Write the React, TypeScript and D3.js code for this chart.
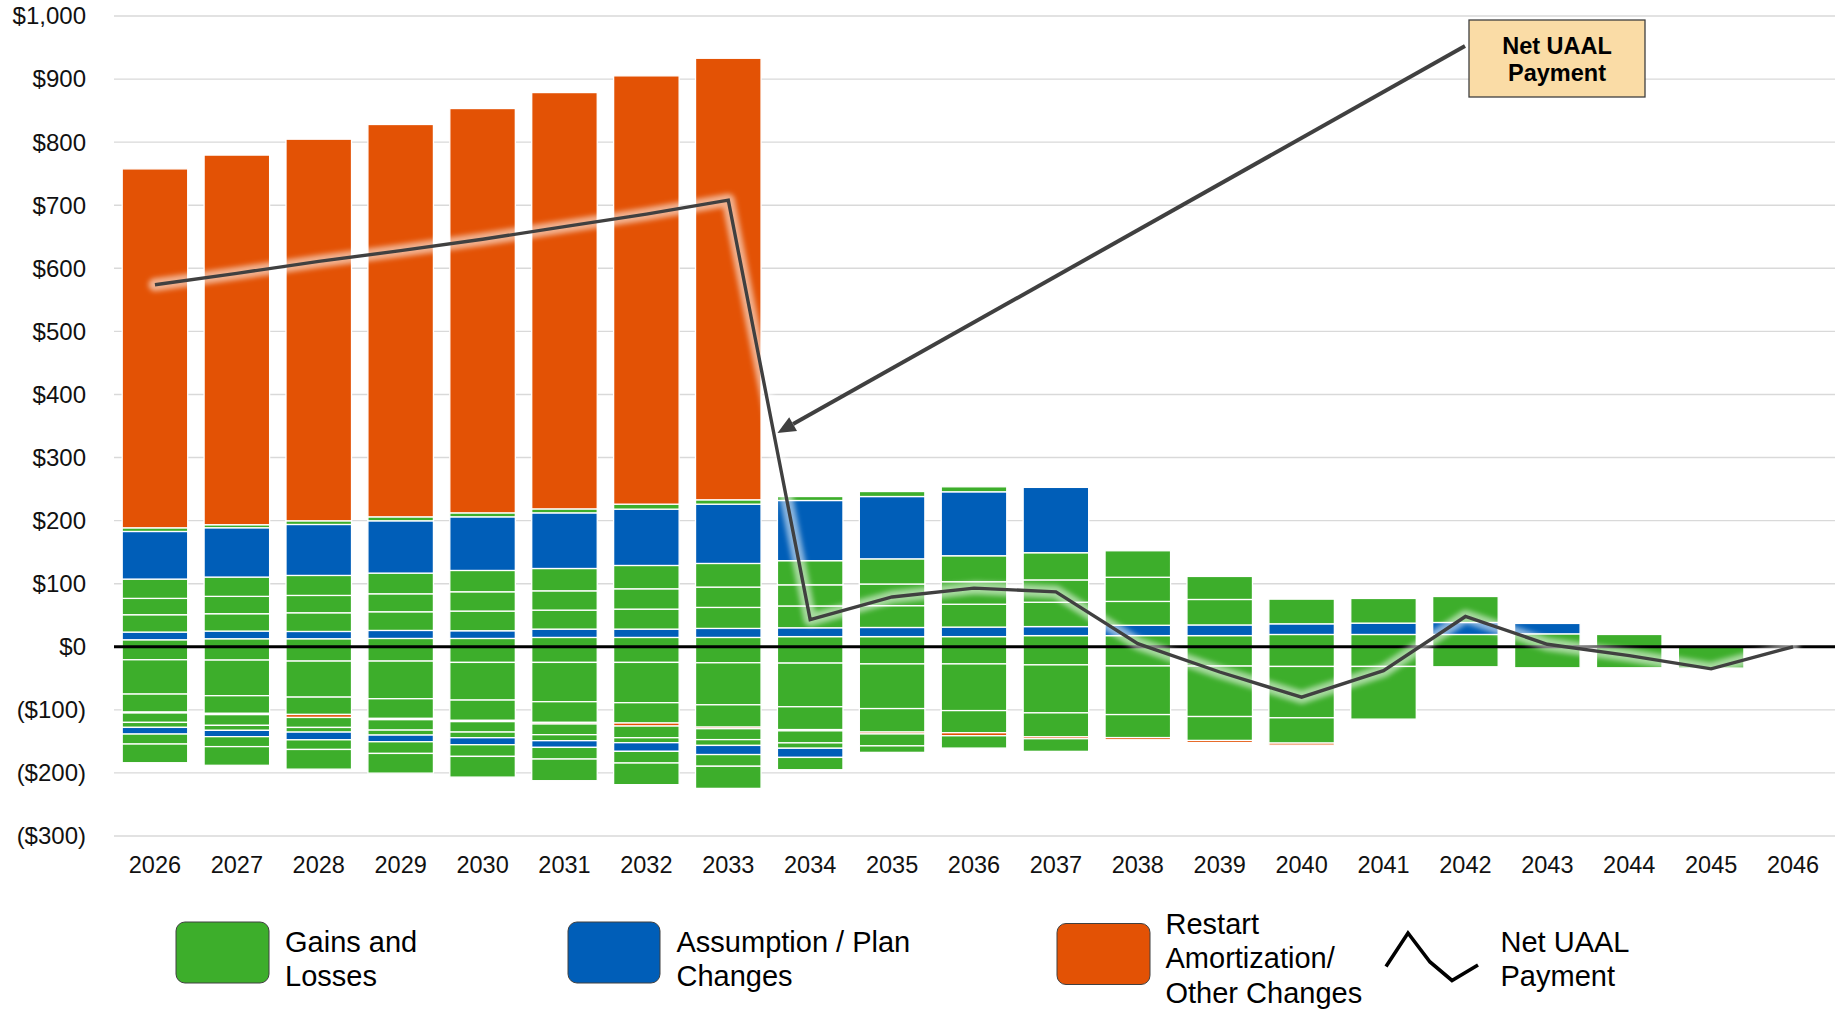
import React from 'react';
import * as d3 from 'd3';

// ---- categories & axis ticks ----
const years = [
  '2026', '2027', '2028', '2029', '2030', '2031', '2032', '2033', '2034', '2035', '2036',
  '2037', '2038', '2039', '2040', '2041', '2042', '2043', '2044', '2045', '2046',
];
const yTicks = [-300, -200, -100, 0, 100, 200, 300, 400, 500, 600, 700, 800, 900, 1000];

// ---- amortization layers ($ millions), one value per year ----
// positive layers, stacked upward from zero in this order
const gainA = [11.1, 12.7, 12.7, 13.2, 13.2, 14.8, 14.8, 14.8, 16.1, 16.1, 16.1, 17.7, 17.7, 17.7, 19.5, 19.5, 19.5, 20.5, 19.5, 0, 0];
const assumpA = [12.2, 12.2, 11.6, 12.7, 12.2, 13.2, 13.2, 14.3, 14.0, 14.5, 15.1, 14.3, 16.4, 16.9, 16.9, 18.0, 19.0, 16.5, 0, 0, 0];
const gainB = [27.5, 27.5, 29.6, 29.6, 31.2, 30.1, 31.7, 33.3, 34.6, 34.6, 36.2, 38.6, 37.8, 40.4, 39.1, 39.1, 41.2, 0, 0, 0, 0];
const gainC = [25.9, 27.5, 27.5, 28.5, 30.6, 30.6, 32.2, 32.2, 33.5, 34.3, 35.7, 35.4, 38.3, 36.5, 0, 0, 0, 0, 0, 0, 0];
const gainD = [30.6, 30.6, 31.7, 32.8, 33.8, 35.4, 37.0, 37.5, 38.3, 39.9, 41.2, 43.1, 42.0, 0, 0, 0, 0, 0, 0, 0, 0];
const assumpB = [75.5, 78.2, 80.8, 82.9, 85.0, 88.2, 89.3, 94.0, 95.4, 98.8, 101.4, 103.6, 0, 0, 0, 0, 0, 0, 0, 0, 0];
const gainE = [5.8, 4.8, 5.8, 6.3, 6.3, 6.3, 7.9, 6.9, 6.3, 7.9, 7.9, 0, 0, 0, 0, 0, 0, 0, 0, 0, 0];
const restart = [569, 586, 605, 622, 641, 660, 679, 700, 0, 0, 0, 0, 0, 0, 0, 0, 0, 0, 0, 0, 0];

// negative layers, stacked downward from zero in this order
const lossA = [-20.6, -21.1, -22.7, -22.7, -24.8, -24.8, -24.8, -25.4, -25.9, -27.2, -27.2, -28.7, -30.4, -30.6, -31.2, -31.2, -31.7, -33.3, -33.3, -33.8, 0];
const lossB = [-54.4, -56.5, -57.1, -59.7, -59.7, -62.3, -63.9, -66.6, -69.2, -70.8, -74.0, -76.1, -77.1, -80.0, -81.4, -83.5, 0, 0, 0, 0, 0];
const lossC = [-28.5, -28.0, -27.5, -31.2, -32.2, -32.8, -32.2, -35.4, -36.2, -37.2, -35.1, -38.0, -36.5, -38.0, -40.1, 0, 0, 0, 0, 0, 0];
const otherNeg = [-1.5, -2.0, -4.8, -2.0, -2.0, -2.5, -4.8, -2.5, -2.0, -3.0, -4.8, -3.0, -3.4, -3.4, -3.2, 0, 0, 0, 0, 0, 0];
const lossD = [-14.9, -17.0, -15.8, -16.5, -16.5, -17.0, -18.5, -17.3, -19.1, -18.9, -19.5, -20.0, 0, 0, 0, 0, 0, 0, 0, 0, 0];
const lossE = [-7.9, -7.9, -7.4, -7.9, -9.0, -9.5, -7.9, -9.2, -8.5, -10.3, 0, 0, 0, 0, 0, 0, 0, 0, 0, 0, 0];
const assumpNeg = [-10.6, -10.0, -12.2, -10.6, -11.1, -10.6, -13.7, -14.5, -14.5, 0, 0, 0, 0, 0, 0, 0, 0, 0, 0, 0, 0];
const lossF = [-15.8, -15.8, -15.3, -18.5, -18.5, -18.5, -18.5, -18.5, -19.5, 0, 0, 0, 0, 0, 0, 0, 0, 0, 0, 0, 0];
const lossG = [-29.6, -29.6, -31.2, -31.2, -32.8, -34.3, -34.3, -35.1, 0, 0, 0, 0, 0, 0, 0, 0, 0, 0, 0, 0, 0];

// net UAAL payment line
const netPayment = [574, 592, 611, 628, 646, 666, 686, 708, 43, 79, 93, 87, 5, -40, -80, -38, 48, 4, -14, -35, 0];

const COLORS: Record<string, string> = {
  gain: '#3dae2b',
  assump: '#005eb8',
  restart: '#e35205',
};

const layers = [
  { key: 'gainA', kind: 'gain', values: gainA },
  { key: 'assumpA', kind: 'assump', values: assumpA },
  { key: 'gainB', kind: 'gain', values: gainB },
  { key: 'gainC', kind: 'gain', values: gainC },
  { key: 'gainD', kind: 'gain', values: gainD },
  { key: 'assumpB', kind: 'assump', values: assumpB },
  { key: 'gainE', kind: 'gain', values: gainE },
  { key: 'restart', kind: 'restart', values: restart },
  { key: 'lossA', kind: 'gain', values: lossA },
  { key: 'lossB', kind: 'gain', values: lossB },
  { key: 'lossC', kind: 'gain', values: lossC },
  { key: 'otherNeg', kind: 'restart', values: otherNeg },
  { key: 'lossD', kind: 'gain', values: lossD },
  { key: 'lossE', kind: 'gain', values: lossE },
  { key: 'assumpNeg', kind: 'assump', values: assumpNeg },
  { key: 'lossF', kind: 'gain', values: lossF },
  { key: 'lossG', kind: 'gain', values: lossG },
];

const FONT = '"Liberation Sans", Arial, Helvetica, sans-serif';

const fmtMoney = (v: number) => {
  const s = '$' + d3.format(',')(Math.abs(v));
  return v < 0 ? `(${s})` : s;
};

export default function App() {
  const W = 1835;
  const H = 1009;
  const left = 114;
  const right = 1834;

  const x = d3.scaleBand<string>().domain(years).range([left, right]).paddingInner(0.2).paddingOuter(0.1);
  const y = d3.scaleLinear().domain([-300, 1000]).range([836, 16]);
  const bw = x.bandwidth();
  const cx = (yr: string) => (x(yr) as number) + bw / 2;

  const rows = years.map((yr, i) => {
    const r: Record<string, any> = { year: yr };
    layers.forEach((l) => (r[l.key] = l.values[i]));
    return r;
  });
  const stacked = d3
    .stack<Record<string, any>>()
    .keys(layers.map((l) => l.key))
    .offset(d3.stackOffsetDiverging)(rows);

  const linePath = d3
    .line<number>()
    .x((_, i) => cx(years[i]))
    .y((v) => y(v))(netPayment) as string;

  // callout arrow: from the label box to the drop in the net line after 2033
  const boxX = 1469;
  const boxY = 20;
  const boxW = 176;
  const boxH = 77;
  const ax0 = boxX - 4;
  const ay0 = 46;
  const ax1 = cx('2033') + x.step() * 0.6;
  const ay1 = y(339);
  const ang = Math.atan2(ay1 - ay0, ax1 - ax0);
  const headLen = 18;
  const headHalf = 8;
  const bx = ax1 - headLen * Math.cos(ang);
  const by = ay1 - headLen * Math.sin(ang);
  const head = [
    [ax1, ay1],
    [bx + headHalf * Math.sin(ang), by - headHalf * Math.cos(ang)],
    [bx - headHalf * Math.sin(ang), by + headHalf * Math.cos(ang)],
  ]
    .map((p) => p.join(','))
    .join(' ');

  const legendText = { fontSize: 29, fill: '#000', fontFamily: FONT } as const;

  return (
    <svg
      width={W}
      height={H}
      viewBox={`0 0 ${W} ${H}`}
      style={{ position: 'fixed', left: 0, top: 0, display: 'block', background: '#fff' }}
    >
      <defs>
        <filter id="glow" x="-20%" y="-20%" width="140%" height="140%">
          <feGaussianBlur stdDeviation="2.4" />
        </filter>
      </defs>

      {/* gridlines */}
      <g>
        {yTicks
          .filter((t) => t !== 0)
          .map((t) => (
            <line key={t} x1={left} x2={W} y1={y(t)} y2={y(t)} stroke="#d9d9d9" strokeWidth={1.4} />
          ))}
      </g>

      {/* y tick labels */}
      <g fontFamily={FONT} fontSize={24} fill="#111" textAnchor="end">
        {yTicks.map((t) => (
          <text key={t} x={86} y={y(t)} dy="0.35em">
            {fmtMoney(t)}
          </text>
        ))}
      </g>

      {/* stacked bars */}
      <g>
        {stacked.map((s, si) =>
          s.map((d, i) => {
            if (d[1] === d[0]) return null;
            const yr = years[i];
            const top = y(Math.max(d[0], d[1]));
            const bot = y(Math.min(d[0], d[1]));
            return (
              <rect
                key={`${si}-${i}`}
                x={x(yr)}
                y={top}
                width={bw}
                height={bot - top}
                fill={COLORS[layers[si].kind]}
                stroke="#fff"
                strokeWidth={1.3}
              />
            );
          })
        )}
      </g>

      {/* zero line */}
      <line x1={left} x2={W} y1={y(0)} y2={y(0)} stroke="#000" strokeWidth={3} />

      {/* net UAAL payment line with soft glow */}
      <path
        d={linePath}
        fill="none"
        stroke="#fff"
        strokeOpacity={0.55}
        strokeWidth={13}
        strokeLinejoin="round"
        strokeLinecap="round"
        filter="url(#glow)"
      />
      <path d={linePath} fill="none" stroke="#404040" strokeWidth={3.4} strokeLinejoin="miter" />

      {/* x axis labels */}
      <g fontFamily={FONT} fontSize={23.5} fill="#111" textAnchor="middle">
        {years.map((yr) => (
          <text key={yr} x={cx(yr)} y={873}>
            {yr}
          </text>
        ))}
      </g>

      {/* callout */}
      <line x1={ax0} y1={ay0} x2={bx} y2={by} stroke="#404040" strokeWidth={4} />
      <polygon points={head} fill="#404040" />
      <rect x={boxX} y={boxY} width={boxW} height={boxH} fill="#fadca6" stroke="#404040" strokeWidth={1.3} />
      <g fontFamily={FONT} fontWeight="bold" fontSize={23.5} fill="#000" textAnchor="middle">
        <text x={boxX + boxW / 2} y={54}>
          Net UAAL
        </text>
        <text x={boxX + boxW / 2} y={81}>
          Payment
        </text>
      </g>

      {/* legend */}
      <g>
        <rect x={176} y={922} width={93} height={61} rx={9} fill={COLORS.gain} stroke="#404040" strokeWidth={1} />
        <text x={285} y={951.7} {...legendText}>Gains and</text>
        <text x={285} y={986} {...legendText}>Losses</text>

        <rect x={568} y={922} width={92} height={61} rx={9} fill={COLORS.assump} stroke="#404040" strokeWidth={1} />
        <text x={676.5} y={951.7} {...legendText}>Assumption / Plan</text>
        <text x={676.5} y={986} {...legendText}>Changes</text>

        <rect x={1057} y={923.5} width={93} height={61} rx={9} fill={COLORS.restart} stroke="#404040" strokeWidth={1} />
        <text x={1165.5} y={934} {...legendText}>Restart</text>
        <text x={1165.5} y={968} {...legendText}>Amortization/</text>
        <text x={1165.5} y={1002.5} {...legendText}>Other Changes</text>

        <polyline
          points="1386,966.5 1408,933 1430,962 1452,980.5 1478,965"
          fill="none"
          stroke="#000"
          strokeWidth={3.6}
          strokeLinejoin="miter"
        />
        <text x={1500.5} y={951.7} {...legendText}>Net UAAL</text>
        <text x={1500.5} y={986} {...legendText}>Payment</text>
      </g>
    </svg>
  );
}
